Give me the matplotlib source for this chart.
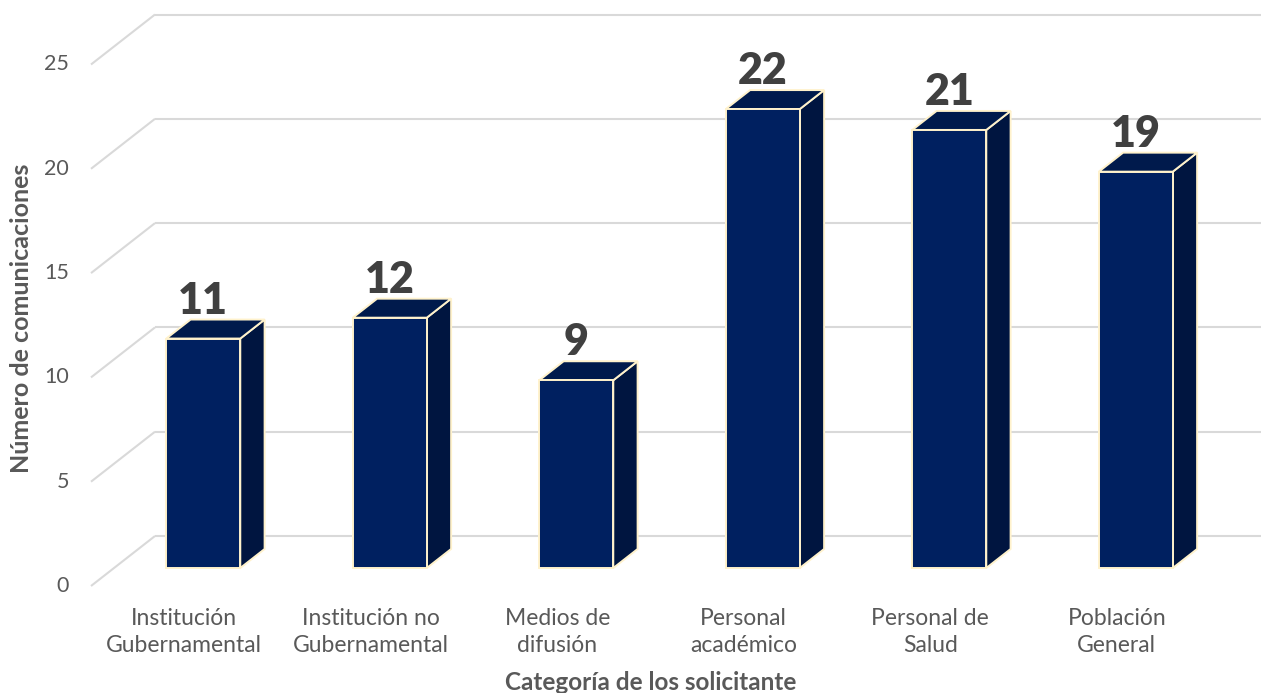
import matplotlib
matplotlib.use("Agg")
import matplotlib.pyplot as plt
from matplotlib.patches import Polygon

categorias = [
    "Institución\nGubernamental",
    "Institución no\nGubernamental",
    "Medios de\ndifusión",
    "Personal\nacadémico",
    "Personal de\nSalud",
    "Población\nGeneral",
]
valores = [11, 12, 9, 22, 21, 19]
ticks_y = [0, 5, 10, 15, 20, 25]

plt.rcParams["font.family"] = ["Lato", "DejaVu Sans"]

W, H = 1261, 693
PX_X = 186.5   # pixels per category
PX_Y = 20.86   # pixels per unit
X0 = 184.25    # pixel of category 0 on the front plane
Y0 = 586       # pixel of value 0 on the front plane

# full floor depth in data units
DX = 64 / PX_X
DY = 50 / PX_Y

ANCHO = 74 / PX_X
DESPL = -4 / PX_X
D_FRENTE = 0.36
D_FONDO = 0.74

GRIS = "#595959"


def prof(x, y, d):
    return (x + DX * d, y + DY * d)


def main():
    fig = plt.figure(figsize=(W / 100, H / 100), dpi=100)
    ax = fig.add_axes([0, 0, 1, 1])
    xmin, xmax = -X0 / PX_X, (W - X0) / PX_X
    ax.set_xlim(xmin, xmax)
    ax.set_ylim((Y0 - H) / PX_Y, Y0 / PX_Y)
    ax.axis("off")

    # gridlines: diagonal on the side wall, then along the back wall
    izq = -0.5
    for v in ticks_y:
        ax.plot([izq, izq + DX], [v, v + DY], color="#D9D9D9", lw=1.5,
                zorder=1, solid_capstyle="butt")
        ax.plot([izq + DX, xmax], [v + DY, v + DY], color="#D9D9D9", lw=1.5,
                zorder=1, solid_capstyle="butt")
        ax.text(-0.618, v, str(v), ha="right", va="center",
                fontsize=15.5, color=GRIS)

    for i, v in enumerate(valores):
        xc = i + DESPL
        xl, xr = xc - ANCHO / 2, xc + ANCHO / 2
        frente = [prof(xl, 0, D_FRENTE), prof(xr, 0, D_FRENTE),
                  prof(xr, v, D_FRENTE), prof(xl, v, D_FRENTE)]
        lado = [prof(xr, 0, D_FRENTE), prof(xr, 0, D_FONDO),
                prof(xr, v, D_FONDO), prof(xr, v, D_FRENTE)]
        tapa = [prof(xl, v, D_FRENTE), prof(xr, v, D_FRENTE),
                prof(xr, v, D_FONDO), prof(xl, v, D_FONDO)]
        for pts, col in ((lado, "#001540"), (tapa, "#001A4C"), (frente, "#002060")):
            ax.add_patch(Polygon(pts, closed=True, facecolor=col,
                                 edgecolor="#FFF2CC", lw=1.4,
                                 joinstyle="miter", zorder=3))
        cx, cy = prof(xc, v, D_FONDO)
        ax.text(xc + DX * D_FRENTE, cy + 6 / PX_Y, str(v), ha="center",
                va="baseline", fontsize=31, fontweight="heavy",
                color="#404040", zorder=4)

        ax.text(i, -46 / PX_Y, categorias[i], ha="center", va="center",
                fontsize=16.5, color=GRIS, linespacing=1.41)

    fig.text(651 / W, 1 - 690 / H, "Categoría de los solicitante",
             ha="center", va="baseline", fontsize=17.5, fontweight="bold",
             color=GRIS)
    fig.text(22 / W, 1 - 318 / H, "Número de comunicaciones",
             ha="center", va="center", rotation=90, fontsize=18,
             fontweight="bold", color=GRIS)

    fig.savefig("out.png", dpi=100)


if __name__ == "__main__":
    main()
